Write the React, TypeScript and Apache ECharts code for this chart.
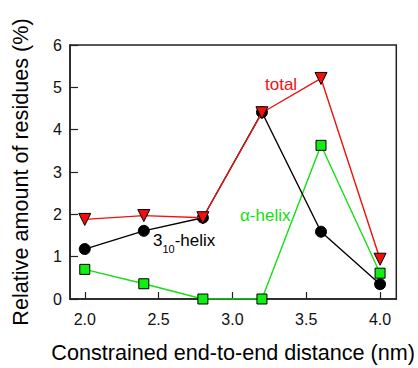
import React, { useEffect, useRef } from "react";
import * as echarts from "echarts";

const distances = [2.0, 2.4, 2.8, 3.2, 3.6, 4.0];
const totalValues = [1.88, 1.97, 1.92, 4.4, 5.21, 0.94];
const helix310Values = [1.18, 1.61, 1.92, 4.41, 1.59, 0.35];
const alphaHelixValues = [0.7, 0.36, 0, 0, 3.63, 0.61];
const xTicks = [2.0, 2.5, 3.0, 3.5, 4.0];

const FONT = "Liberation Sans, Arial, sans-serif";

export default function App() {
  const ref = useRef<HTMLDivElement>(null);
  useEffect(() => {
    document.body.style.margin = "0";
    if (!ref.current) return;
    const chart = echarts.init(ref.current, undefined, { renderer: "svg" });
    const pts = (vals: number[]) => distances.map((d, i) => [d, vals[i]]);
    chart.setOption({
      animation: false,
      backgroundColor: "#fff",
      textStyle: { fontFamily: FONT },
      grid: {
        left: 70,
        top: 45,
        right: 16,
        bottom: 69,
        show: true,
        borderColor: "#222",
        borderWidth: 1.5,
        backgroundColor: "transparent",
      },
      xAxis: {
        type: "value",
        min: 1.9,
        max: 4.11,
        name: "Constrained end-to-end distance (nm)",
        nameLocation: "middle",
        nameGap: 42,
        nameTextStyle: { fontSize: 21.6, color: "#000", fontFamily: FONT },
        axisLine: { show: true, onZero: false, lineStyle: { color: "#222", width: 1.5 } },
        axisTick: { show: true, inside: true, length: 7, customValues: xTicks, lineStyle: { color: "#222", width: 1.2 } },
        axisLabel: {
          customValues: xTicks,
          formatter: (v: number) => v.toFixed(1),
          fontSize: 16,
          color: "#111",
          margin: 12,
          fontFamily: FONT,
        },
        splitLine: { show: false },
      },
      yAxis: {
        type: "value",
        min: 0,
        max: 6,
        interval: 1,
        name: "Relative amount of residues (%)",
        nameLocation: "middle",
        nameGap: 39,
        nameRotate: 90,
        nameTextStyle: { fontSize: 21.6, color: "#000", fontFamily: FONT },
        axisLine: { show: true, lineStyle: { color: "#222", width: 1.5 } },
        axisTick: { show: true, inside: true, length: 8, lineStyle: { color: "#222", width: 1.2 } },
        axisLabel: { fontSize: 16, color: "#111", margin: 8, fontFamily: FONT },
        splitLine: { show: false },
      },
      series: [
        {
          name: "α-helix",
          type: "line",
          data: pts(alphaHelixValues),
          symbol: "rect",
          symbolSize: 10,
          z: 2,
          lineStyle: { color: "#11e011", width: 1.4 },
          itemStyle: { color: "#11ee11", borderColor: "#000", borderWidth: 1 },
        },
        {
          name: "3-10-helix",
          type: "line",
          data: pts(helix310Values),
          symbol: "circle",
          symbolSize: 11,
          z: 3,
          lineStyle: { color: "#000", width: 1.4 },
          itemStyle: { color: "#000", borderColor: "#000", borderWidth: 1 },
        },
        {
          name: "total",
          type: "line",
          data: pts(totalValues),
          symbol: "triangle",
          symbolRotate: 180,
          symbolSize: 12,
          z: 4,
          lineStyle: { color: "#f01010", width: 1.4 },
          itemStyle: { color: "#f01010", borderColor: "#000", borderWidth: 1 },
        },
      ],
      graphic: [
        {
          type: "text",
          left: 265,
          top: 76,
          style: { text: "total", fill: "#f01010", fontSize: 17, fontFamily: FONT },
        },
        {
          type: "text",
          left: 240,
          top: 207,
          style: { text: "α-helix", fill: "#11e011", fontSize: 17, fontFamily: FONT },
        },
        {
          type: "text",
          left: 153,
          top: 232,
          style: {
            text: "{a|3}{b|10}{a|-helix}",
            fill: "#000",
            fontFamily: FONT,
            rich: {
              a: { fontSize: 17, fill: "#000", fontFamily: FONT, lineHeight: 22, verticalAlign: "top" },
              b: { fontSize: 11, fill: "#000", fontFamily: FONT, lineHeight: 22, verticalAlign: "bottom", padding: [10, 0, 0, 0] },
            },
          },
        },
      ],
    });
    return () => chart.dispose();
  }, []);
  return <div ref={ref} style={{ width: 418, height: 368 }} />;
}
